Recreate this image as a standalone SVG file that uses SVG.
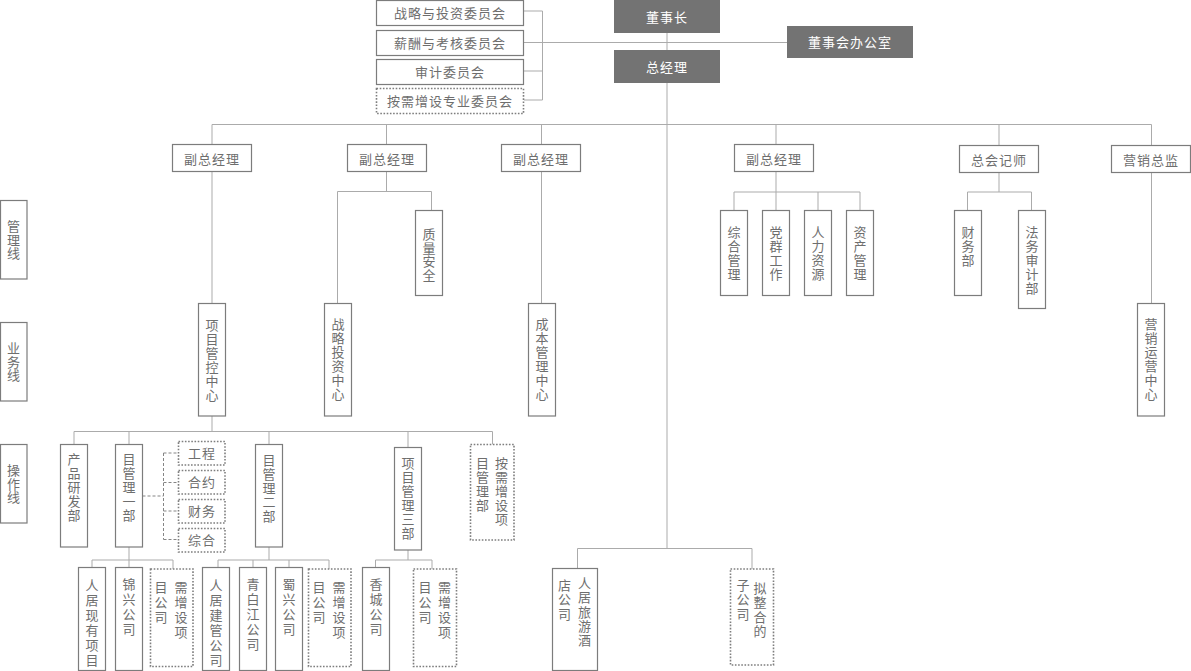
<svg xmlns="http://www.w3.org/2000/svg" width="1191" height="671" viewBox="0 0 1191 671">
  <style>
    text { font-family: "Noto Sans CJK SC", "Noto Sans", sans-serif; font-size: 13px; fill: #6e6e6e; text-anchor: middle; }
    .h { letter-spacing: 1px; }
    .w { fill: #ffffff; }
    .box { fill: #ffffff; stroke: #7c7c7c; stroke-width: 1.2; }
    .dot { fill: #ffffff; stroke: #7e7e7e; stroke-width: 1.6; stroke-dasharray: 1.6 1.6; }
    .dark { fill: #737373; stroke: none; }
    .ln { fill: none; stroke: #ababab; stroke-width: 1; }
    .dl { fill: none; stroke: #858585; stroke-width: 1; stroke-dasharray: 3 2; }
  </style>
  <rect width="1191" height="671" fill="#ffffff"/>

  <!-- connectors -->
  <g id="connectors">
    <path class="ln" d="M524 11H542.5M524 42.5H787M524 71H542.5M524 100H542.5M542.5 11V100"/>
    <path class="ln" d="M667 33V50M667 83V548.5"/>
    <path class="ln" d="M212 124.5H1151.5M212 124.5V144.5M386.5 124.5V144.5M541.5 124.5V144.5M776 124.5V144.5M999 124.5V145.5M1151.5 124.5V145.5"/>
    <path class="ln" d="M212 171.5V303.5M212 416V431.5M74 431.5H492.5M74 431.5V444.5M129 431.5V444.5M269 431.5V444.5M408 431.5V447.5M492.5 431.5V444.5"/>
    <path class="ln" d="M386.5 171.5V191.5M337.5 191.5H431.5M337.5 191.5V303.5M431.5 191.5V210.5"/>
    <path class="ln" d="M541.5 171.5V303.5"/>
    <path class="ln" d="M776 171.5V192M734 192H860M734 192V210.5M776 192V210.5M818 192V210.5M860 192V210.5"/>
    <path class="ln" d="M999 172.5V192M967.5 192H1031.5M967.5 192V210.5M1031.5 192V210.5"/>
    <path class="ln" d="M1151.5 172.5V303.5"/>
    <path class="ln" d="M129 547V560M92 560H173M92 560V567.5M129 560V567.5M173 560V569"/>
    <path class="ln" d="M269 547V560M218 560H329M218 560V567.5M253 560V567.5M289 560V567.5M329 560V569"/>
    <path class="ln" d="M408 550V560M375.5 560H432M375.5 560V567.5M432 560V569"/>
    <path class="ln" d="M577.5 548.5H752M577.5 548.5V568.5M752 548.5V569"/>
    <path class="dl" d="M142.5 496H163.5M163.5 453V539.5M163.5 453H178.5M163.5 482.5H178.5M163.5 511H178.5M163.5 539.5H178.5"/>
  </g>

  <!-- board level -->
  <g id="committee-strategy"><rect class="box" x="376.5" y="0.5" width="147" height="25"/><text class="h" x="450" y="18">战略与投资委员会</text></g>
  <g id="committee-pay"><rect class="box" x="376.5" y="30.5" width="147" height="25"/><text class="h" x="450" y="47.5">薪酬与考核委员会</text></g>
  <g id="committee-audit"><rect class="box" x="376.5" y="59.5" width="147" height="25"/><text class="h" x="450" y="77">审计委员会</text></g>
  <g id="committee-extra"><rect class="dot" x="376.5" y="88.5" width="147" height="25"/><text class="h" x="450" y="106">按需增设专业委员会</text></g>
  <g id="chairman"><rect class="dark" x="614" y="0" width="106" height="33"/><text class="h w" x="667" y="21.5">董事长</text></g>
  <g id="gm"><rect class="dark" x="614" y="50" width="106" height="33"/><text class="h w" x="667" y="71.5">总经理</text></g>
  <g id="board-office"><rect class="dark" x="787" y="26" width="126" height="32"/><text class="h w" x="850" y="47">董事会办公室</text></g>

  <!-- executives -->
  <g id="vp1"><rect class="box" x="172.5" y="144.5" width="79" height="27"/><text class="h" x="212" y="163.5">副总经理</text></g>
  <g id="vp2"><rect class="box" x="347.5" y="144.5" width="79" height="27"/><text class="h" x="387" y="163.5">副总经理</text></g>
  <g id="vp3"><rect class="box" x="501.5" y="144.5" width="79" height="27"/><text class="h" x="541" y="163.5">副总经理</text></g>
  <g id="vp4"><rect class="box" x="734.5" y="144.5" width="79" height="27"/><text class="h" x="774" y="163.5">副总经理</text></g>
  <g id="cfo"><rect class="box" x="959.5" y="145.5" width="79" height="27"/><text class="h" x="999" y="164.5">总会记师</text></g>
  <g id="cmo"><rect class="box" x="1111.5" y="145.5" width="79" height="27"/><text class="h" x="1151" y="164.5">营销总监</text></g>

  <!-- line labels -->
  <g id="label-mgmt"><rect class="box" x="0.5" y="200.5" width="26.5" height="78.5"/><text x="13.5 13.5 13.5" y="231 244.5 258">管理线</text></g>
  <g id="label-biz"><rect class="box" x="0.5" y="322.5" width="26.5" height="78.5"/><text x="13.5 13.5 13.5" y="353 366.5 380">业务线</text></g>
  <g id="label-ops"><rect class="box" x="0.5" y="444.5" width="26.5" height="78.5"/><text x="13.5 13.5 13.5" y="475 488.5 502">操作线</text></g>

  <!-- departments -->
  <g id="quality"><rect class="box" x="415.5" y="210.5" width="27" height="85"/><text x="429 429 429 429" y="239 252.5 266 279.5">质量安全</text></g>
  <g id="admin"><rect class="box" x="720.5" y="210.5" width="27" height="85"/><text x="734 734 734 734" y="237 251 265 279">综合管理</text></g>
  <g id="party"><rect class="box" x="762.5" y="210.5" width="27" height="85"/><text x="776 776 776 776" y="237 251 265 279">党群工作</text></g>
  <g id="hr"><rect class="box" x="804.5" y="210.5" width="27" height="85"/><text x="818 818 818 818" y="237 251 265 279">人力资源</text></g>
  <g id="assets"><rect class="box" x="846.5" y="210.5" width="27" height="85"/><text x="860 860 860 860" y="237 251 265 279">资产管理</text></g>
  <g id="finance"><rect class="box" x="954.5" y="210.5" width="27" height="85"/><text x="968 968 968" y="237 251 265">财务部</text></g>
  <g id="legal"><rect class="box" x="1018.5" y="210.5" width="27" height="98"/><text x="1032 1032 1032 1032 1032" y="237 251 265 279 293">法务审计部</text></g>

  <!-- centres -->
  <g id="project-center"><rect class="box" x="198.5" y="303.5" width="27" height="112.5"/><text x="212 212 212 212 212 212" y="330 344 358 372 386 400">项目管控中心</text></g>
  <g id="invest-center"><rect class="box" x="324.5" y="303.5" width="27" height="112.5"/><text x="338 338 338 338 338 338" y="329 343 357 371 385 399">战略投资中心</text></g>
  <g id="cost-center"><rect class="box" x="528.5" y="303.5" width="27" height="112.5"/><text x="542 542 542 542 542 542" y="329 343 357 371 385 399">成本管理中心</text></g>
  <g id="marketing-center"><rect class="box" x="1137.5" y="303.5" width="27" height="112.5"/><text x="1151 1151 1151 1151 1151 1151" y="329 343 357 371 385 399">营销运营中心</text></g>

  <!-- operating units -->
  <g id="rnd"><rect class="box" x="60.5" y="444.5" width="27" height="102.5"/><text x="74 74 74 74 74" y="464 478 492 506 520">产品研发部</text></g>
  <g id="pm1"><rect class="box" x="115.5" y="444.5" width="27" height="102.5"/><text x="129 129 129 129 129" y="464 478 492 506 520">目管理一部</text></g>
  <g id="pm1-eng"><rect class="dot" x="178.5" y="441.5" width="46.5" height="23.5"/><text class="h" x="202" y="458">工程</text></g>
  <g id="pm1-contract"><rect class="dot" x="178.5" y="470.5" width="46.5" height="23.5"/><text class="h" x="202" y="487">合约</text></g>
  <g id="pm1-fin"><rect class="dot" x="178.5" y="499.5" width="46.5" height="23.5"/><text class="h" x="202" y="516">财务</text></g>
  <g id="pm1-gen"><rect class="dot" x="178.5" y="528.5" width="46.5" height="23.5"/><text class="h" x="202" y="545">综合</text></g>
  <g id="pm2"><rect class="box" x="255.5" y="444.5" width="27" height="102.5"/><text x="269 269 269 269 269" y="465 479 493 507 521">目管理二部</text></g>
  <g id="pm3"><rect class="box" x="394.5" y="447.5" width="27" height="102.5"/><text x="408 408 408 408 408 408" y="468 482 496 510 524 538">项目管理三部</text></g>
  <g id="pm-extra"><rect class="dot" x="470.5" y="444.5" width="43.5" height="95.5"/>
    <text x="501.5 501.5 501.5 501.5 501.5" y="468 482 496 510 524">按需增设项</text>
    <text x="482.5 482.5 482.5 482.5" y="468 482 496 510">目管理部</text></g>

  <!-- companies -->
  <g id="co-existing"><rect class="box" x="78.5" y="567.5" width="27" height="103"/><text x="92 92 92 92 92 92" y="590 605 620 635 650 665">人居现有项目</text></g>
  <g id="co-jinxing"><rect class="box" x="115.5" y="567.5" width="27" height="103"/><text x="129 129 129 129" y="589 604 619 634">锦兴公司</text></g>
  <g id="co-extra1"><rect class="dot" x="150.5" y="569" width="42.5" height="97.5"/>
    <text x="181 181 181 181" y="592 607 622 637">需增设项</text>
    <text x="161 161 161" y="592 607 622">目公司</text></g>
  <g id="co-jianguan"><rect class="box" x="202.5" y="567.5" width="27" height="103"/><text x="216 216 216 216 216 216" y="590 605 620 635 650 665">人居建管公司</text></g>
  <g id="co-qingbaijiang"><rect class="box" x="239.5" y="567.5" width="27" height="103"/><text x="253 253 253 253 253" y="589 604 619 634 649">青白江公司</text></g>
  <g id="co-shuxing"><rect class="box" x="275.5" y="567.5" width="27" height="103"/><text x="289 289 289 289" y="589 604 619 634">蜀兴公司</text></g>
  <g id="co-extra2"><rect class="dot" x="308.5" y="569" width="42.5" height="97.5"/>
    <text x="339 339 339 339" y="592 607 622 637">需增设项</text>
    <text x="319 319 319" y="592 607 622">目公司</text></g>
  <g id="co-xiangcheng"><rect class="box" x="362.5" y="567.5" width="27" height="103"/><text x="376 376 376 376" y="589 604 619 634">香城公司</text></g>
  <g id="co-extra3"><rect class="dot" x="413.5" y="569" width="43" height="97.5"/>
    <text x="444.5 444.5 444.5 444.5" y="592 607 622 637">需增设项</text>
    <text x="425 425 425" y="592 607 622">目公司</text></g>
  <g id="co-hotel"><rect class="box" x="552.5" y="568.5" width="45" height="102"/>
    <text x="584.5 584.5 584.5 584.5 584.5" y="588 602.3 616.6 631 645.3">人居旅游酒</text>
    <text x="564.5 564.5 564.5" y="590 604.3 618.6">店公司</text></g>
  <g id="co-merge"><rect class="dot" x="730.5" y="569" width="43" height="96"/>
    <text x="760 760 760 760" y="593 607.3 621.6 636">拟整合的</text>
    <text x="743 743 743" y="590 604.3 618.6">子公司</text></g>
</svg>
